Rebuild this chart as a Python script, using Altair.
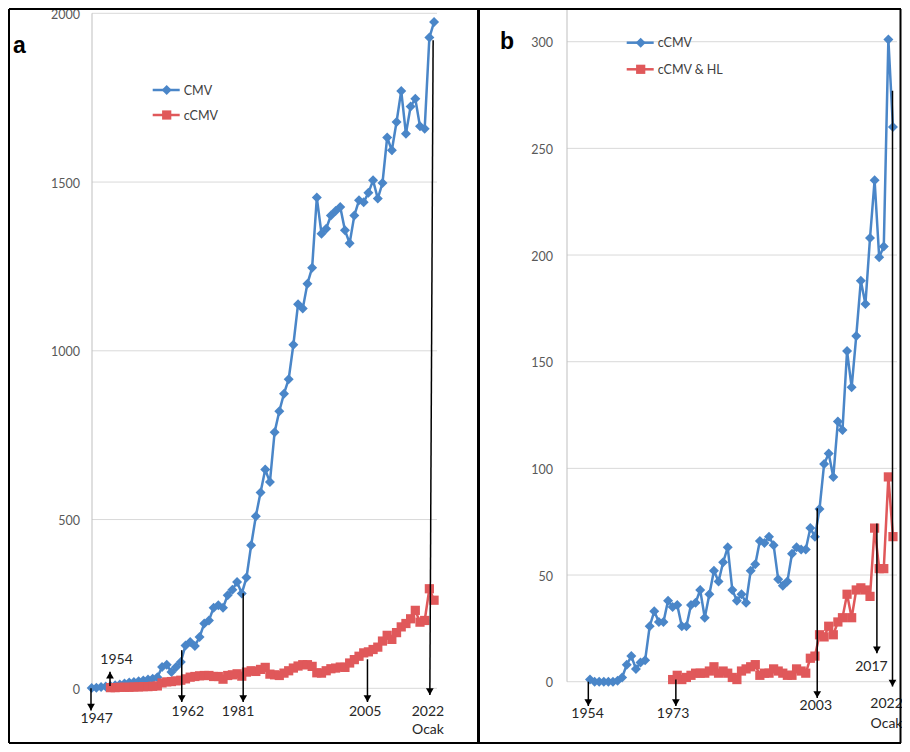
import altair as alt
import pandas as pd

BLUE = "#4A86C8"
RED = "#E0585A"
FONT = "Lato"

# ---------------- panel a data (point index along the category axis) ----------------
a_cmv = [1, 2, 4, 5, 7, 9, 11, 14, 17, 19, 21, 23, 26, 28, 33,
         63, 70, 48, 63, 78, 127, 137, 125, 152, 192, 201, 239, 246, 239, 276,
         292, 315, 281, 328, 424, 510, 580, 648, 611, 759, 821, 873, 916, 1018,
         1138, 1125, 1199, 1246, 1454, 1347, 1362, 1401, 1414, 1426, 1357, 1319,
         1401, 1446, 1440, 1468, 1505, 1451, 1497, 1632, 1594, 1678, 1770, 1643,
         1724, 1747, 1665, 1658, 1928, 1974]
a_ccmv_first = 4
a_ccmv = [2, 2, 3, 3, 3, 4, 4, 5, 5, 6, 7, 16, 19, 20, 22, 24, 28, 33, 35, 37,
          38, 38, 35, 35, 27, 38, 40, 43, 36, 48, 52, 50, 56, 62, 42, 40, 38, 45,
          52, 60, 66, 70, 70, 65, 46, 45, 52, 58, 60, 63, 62, 75, 85, 95, 105, 108,
          115, 122, 140, 157, 145, 165, 182, 192, 206, 231, 196, 201, 295, 261]

# ---------------- panel b data ----------------
b_ccmv = [1, 0, 0, 0, 0, 0, 0.5, 2, 8, 12, 6, 9, 10, 26, 33, 28, 28, 38, 35, 36,
          26, 26, 36, 37, 43, 30, 41, 52, 47, 56, 63, 43, 38, 41, 37, 52, 55, 66,
          65, 68, 64, 48, 45, 47, 60, 63, 62, 62, 72, 68, 81, 102, 107, 96, 122,
          118, 155, 138, 162, 188, 177, 208, 235, 199, 204, 301, 260]
b_hl_first = 18
b_hl = [1, 3, 1, 2, 3, 4, 4, 4, 5, 7, 4, 5, 4, 2, 1, 5, 6, 7, 8, 3, 4, 4, 6, 5,
        4, 3, 3, 6, 5, 4, 11, 12, 22, 21, 26, 22, 28, 30, 41, 30, 43, 44, 43, 40,
        72, 53, 53, 96, 68]

a_ticks = [0, 500, 1000, 1500, 2000]
b_ticks = [0, 50, 100, 150, 200, 250, 300]
a_series = ["CMV", "cCMV"]
b_series = ["cCMV", "cCMV & HL"]
panel_names = ["a", "b"]

# annotation arrows (index at top, index at tip, start value, tip value, direction)
a_arr_label = ["1947", "1954", "1962", "1981", "2005", "2022"]
a_arr_xtop = [-0.15, 3.9, 19.2, 32.3, 58.8, 72.8]
a_arr_xtip = [-0.15, 3.9, 19.2, 32.3, 58.8, 72.1]
a_arr_from = [0, 7, 113, 282, 86, 1920]
a_arr_tip = [-66, 49, -40.6, -40.6, -40.6, -20]
a_arr_dir = ["down", "up", "down", "down", "down", "down"]
a_lab_text = ["1947", "1954", "1962", "1981", "2005", "2022", "Ocak"]
a_lab_x = [1.07, 5.3, 20.5, 31.2, 58.3, 71.7, 71.7]
a_lab_v = [-91.6, 85, -69, -69, -69, -69, -123.6]

b_arr_label = ["1954", "1973", "2003", "2017", "2022"]
b_arr_xtop = [-0.37, 18.7, 49.5, 62.5, 65.9]
b_arr_xtip = [-0.37, 18.7, 49.5, 62.5, 65.9]
b_arr_from = [0, 1, 81.3, 74.2, 277]
b_arr_tip = [-11.4, -11.4, -7.6, 13.3, -2.3]
b_arr_dir = ["down", "down", "down", "down", "down"]
b_lab_text = ["1954", "1973", "2003", "2017", "2022", "Ocak"]
b_lab_x = [-0.54, 18.1, 49.2, 61.3, 64.6, 64.6]
b_lab_v = [-15.2, -15.2, -11.4, 6.9, -10.5, -19.9]

# ---------------- scales ----------------
A_X = alt.Scale(domain=[0.064, 171.71], nice=False, zero=False)
A_Y = alt.Scale(domain=[-165.0, 2015.7], nice=False, zero=False)
B_X = alt.Scale(domain=[-108.5, 66.88], nice=False, zero=False)
B_Y = alt.Scale(domain=[-29.2, 315.8], nice=False, zero=False)


def X(f, sc):
    return alt.X(f, type="quantitative", scale=sc, axis=None)


def Y(f, sc):
    return alt.Y(f, type="quantitative", scale=sc, axis=None)


def panel(sx, sy, ticks, s1, s1_first, s2, s2_first, names, arr, labs,
          axis_px, grid_px2, ticklab_px, axis_top, legend_px, legend_py, title, title_px, title_py):
    layers = []
    gdf = pd.DataFrame({"v": ticks, "lab": [str(t) for t in ticks]})
    layers.append(alt.Chart(gdf).mark_rule(color="#D9D9D9", strokeWidth=1).encode(
        y=Y("v", sy), x=alt.value(axis_px), x2=alt.value(grid_px2)))
    layers.append(alt.Chart(pd.DataFrame({"v0": [0], "v1": [axis_top]})).mark_rule(
        color="#BFBFBF", strokeWidth=1).encode(
        y=Y("v0", sy), y2=alt.Y2("v1"), x=alt.value(axis_px)))
    layers.append(alt.Chart(gdf).mark_text(align="right", baseline="middle", fontSize=12.5,
                                           font=FONT, color="#595959", dy=1.5).encode(
        y=Y("v", sy), x=alt.value(ticklab_px), text="lab:N"))
    for vals, first, color, shape, size in [(s1, s1_first, BLUE, "diamond", 100),
                                            (s2, s2_first, RED, "square", 85)]:
        df = pd.DataFrame({"i": list(range(first, first + len(vals))), "v": vals})
        layers.append(alt.Chart(df).mark_line(color=color, strokeWidth=2.5).encode(
            x=X("i", sx), y=Y("v", sy)))
        layers.append(alt.Chart(df).mark_point(shape=shape, filled=True, size=size, opacity=1,
                                               color=color).encode(
            x=X("i", sx), y=Y("v", sy)))
    lab, xt, xb, v0, v1, d = arr
    adf = pd.DataFrame({"lab": lab, "xt": xt, "xb": xb, "v0": v0, "v1": v1, "d": d})
    layers.append(alt.Chart(adf).mark_rule(color="black", strokeWidth=1.5).encode(
        x=X("xt", sx), x2=alt.X2("xb"), y=Y("v0", sy), y2=alt.Y2("v1")))
    for dname, shp, off in [("down", "triangle-down", -3.4), ("up", "triangle-up", 3.4)]:
        sub = adf[adf["d"] == dname]
        if len(sub):
            layers.append(alt.Chart(sub).mark_point(shape=shp, filled=True, size=60, opacity=1,
                                                    color="black", yOffset=off).encode(
                x=X("xb", sx), y=Y("v1", sy)))
    t, lx, lv = labs
    ldf = pd.DataFrame({"t": t, "x": lx, "v": lv})
    layers.append(alt.Chart(ldf).mark_text(align="center", baseline="middle", fontSize=14,
                                           font=FONT, color="#262626").encode(
        x=X("x", sx), y=Y("v", sy), text="t:N"))
    # legend
    for k, (name, color, shape, size) in enumerate([(names[0], BLUE, "diamond", 100),
                                                    (names[1], RED, "square", 85)]):
        py = legend_py[k]
        one = pd.DataFrame({"t": [name]})
        layers.append(alt.Chart(one).mark_rule(color=color, strokeWidth=2.5).encode(
            x=alt.value(legend_px), x2=alt.value(legend_px + 27), y=alt.value(py)))
        layers.append(alt.Chart(one).mark_point(shape=shape, filled=True, size=size, opacity=1,
                                                color=color).encode(
            x=alt.value(legend_px + 14), y=alt.value(py)))
        layers.append(alt.Chart(one).mark_text(align="left", baseline="middle", fontSize=12.5,
                                               font=FONT, color="#404040").encode(
            x=alt.value(legend_px + 31), y=alt.value(py + 0.5), text="t:N"))
    layers.append(alt.Chart(pd.DataFrame({"t": [title]})).mark_text(
        align="left", baseline="alphabetic", fontSize=23, fontWeight="bold",
        font="Liberation Sans", color="black").encode(
        x=alt.value(title_px), y=alt.value(title_py), text="t:N"))
    return alt.layer(*layers)


pa = panel(A_X, A_Y, a_ticks, a_cmv, 0, a_ccmv, a_ccmv_first, a_series,
           (a_arr_label, a_arr_xtop, a_arr_xtip, a_arr_from, a_arr_tip, a_arr_dir),
           (a_lab_text, a_lab_x, a_lab_v),
           0, 345, -12, 2000, 60.7, [82, 107], panel_names[0], -79, 45)
pb = panel(B_X, B_Y, b_ticks, b_ccmv, 0, b_hl, b_hl_first, b_series,
           (b_arr_label, b_arr_xtop, b_arr_xtip, b_arr_from, b_arr_tip, b_arr_dir),
           (b_lab_text, b_lab_x, b_lab_v),
           475, 805, 461, 315.8, 534.7, [34.7, 61.3], panel_names[1], 408, 41)

# figure frame and divider (decoration)
frame_df = pd.DataFrame({"k": ["frame"]})
frame = alt.layer(
    alt.Chart(frame_df).mark_rule(color="black", strokeWidth=2).encode(
        x=alt.value(-83), x2=alt.value(809), y=alt.value(1)),
    alt.Chart(frame_df).mark_rule(color="black", strokeWidth=2).encode(
        x=alt.value(-83), x2=alt.value(809), y=alt.value(735)),
    alt.Chart(frame_df).mark_rule(color="black", strokeWidth=2).encode(
        x=alt.value(-83), y=alt.value(1), y2=alt.value(735)),
    alt.Chart(frame_df).mark_rule(color="black", strokeWidth=2).encode(
        x=alt.value(808.5), y=alt.value(1), y2=alt.value(735)),
    alt.Chart(frame_df).mark_rule(color="black", strokeWidth=3).encode(
        x=alt.value(386.5), y=alt.value(1), y2=alt.value(735)),
)

chart = alt.layer(pa, pb, frame).resolve_scale(x="independent", y="independent").properties(
    width=805, height=736,
    padding={"left": 84, "right": 5, "top": 0, "bottom": 0},
    autosize=alt.AutoSizeParams(type="none"),
    background="white",
).configure_view(stroke=None)

chart.save("out.html", embed_options={"renderer": "svg", "actions": False})
